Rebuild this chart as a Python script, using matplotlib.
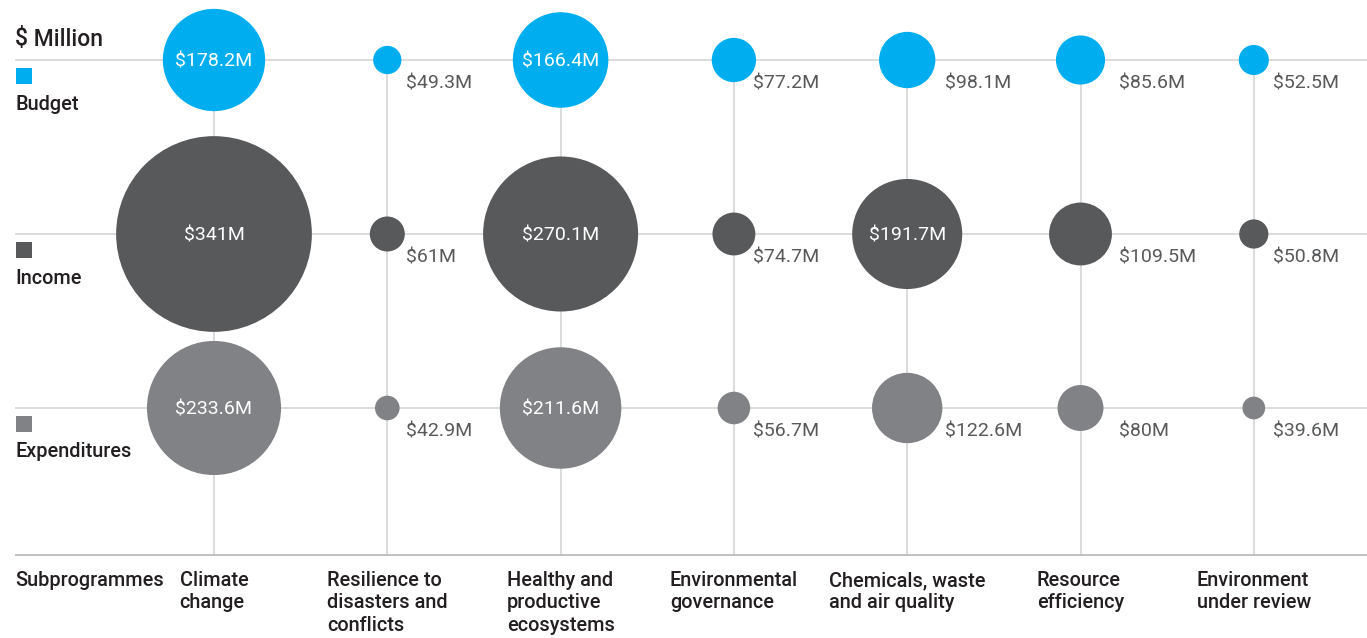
import numpy as np
import matplotlib
matplotlib.use("Agg")
import matplotlib.pyplot as plt

plt.rcParams['font.family'] = ['Roboto', 'DejaVu Sans']

# data
subprogrammes = ["Climate\nchange", "Resilience to\ndisasters and\nconflicts",
                 "Healthy and\nproductive\necosystems", "Environmental\ngovernance",
                 "Chemicals, waste\nand air quality", "Resource\nefficiency",
                 "Environment\nunder review"]
series = ["Budget", "Income", "Expenditures"]
budget = [178.2, 49.3, 166.4, 77.2, 98.1, 85.6, 52.5]
income = [341, 61, 270.1, 74.7, 191.7, 109.5, 50.8]
expenditures = [233.6, 42.9, 211.6, 56.7, 122.6, 80, 39.6]
colors = ["#00aeef", "#58595b", "#808285"]

values = [budget, income, expenditures]

dpi = 100
fig = plt.figure(figsize=(13.67, 6.38), dpi=dpi)
ax = fig.add_axes([0, 0, 1, 1])

# pixel layout -> data units
col0, colstep = 214, 173.3
row0, rowstep = 60, 174
W, H = 1367, 638
ax.set_xlim(-col0 / colstep, (W - col0) / colstep)
ax.set_ylim((H - row0) / rowstep, -row0 / rowstep)
ax.axis("off")

def px_x(p):
    return (p - col0) / colstep

def px_y(p):
    return (p - row0) / rowstep

n = len(subprogrammes)
xs = np.arange(n)
axis_y = px_y(555)

# grid
ax.hlines(range(3), px_x(15), px_x(W), color="#d9d9d9", lw=1.3, zorder=1)
ax.vlines(xs, 0, axis_y, color="#d9d9d9", lw=1.3, zorder=1)
ax.hlines(axis_y, px_x(15), px_x(W), color="#bcbcbc", lw=1.3, zorder=1)

pt = 72 / dpi
scale = 0.287  # radius in px per $M
for r, (vals, c) in enumerate(zip(values, colors)):
    v = np.array(vals)
    sizes = (2 * v * scale * pt) ** 2
    ax.scatter(xs, np.full(n, r), s=sizes, color=c, lw=0, zorder=3)
    for i, val in enumerate(vals):
        txt = "$%gM" % val
        if val > 150:
            ax.text(i, r, txt, ha="center", va="center_baseline", color="white",
                    fontsize=14, zorder=4)
        else:
            big = max(values[k][i] for k in range(3) if values[k][i] <= 150) > 95
            off = 38 if big else 19
            ax.annotate(txt, (i, r), xytext=(off * pt, -22 * pt),
                        textcoords="offset points", ha="left", va="center_baseline",
                        color="#58595b", fontsize=14, zorder=4)

# left legend
ax.text(px_x(15), px_y(37), "$ Million", ha="left", va="center_baseline",
        fontsize=16.5, fontweight="medium", color="#231f20")
for r, (name, c) in enumerate(zip(series, colors)):
    ax.scatter([px_x(24)], [r + 16 / rowstep], marker="s", s=(16 * pt) ** 2,
               color=c, lw=0, zorder=3)
    ax.text(px_x(15), r + 42 / rowstep, name, ha="left", va="center_baseline",
            fontsize=14.3, fontweight="medium", color="#231f20")

# category labels
ax.text(px_x(15), px_y(571), "Subprogrammes", ha="left", va="top",
        fontsize=14.3, fontweight="medium", color="#231f20")
for i, name in enumerate(subprogrammes):
    ax.text(i, px_y(571), name, ha="center", va="top", multialignment="left",
            fontsize=14.3, fontweight="medium", color="#231f20", linespacing=1.22)

fig.savefig("out.png", dpi=dpi)
